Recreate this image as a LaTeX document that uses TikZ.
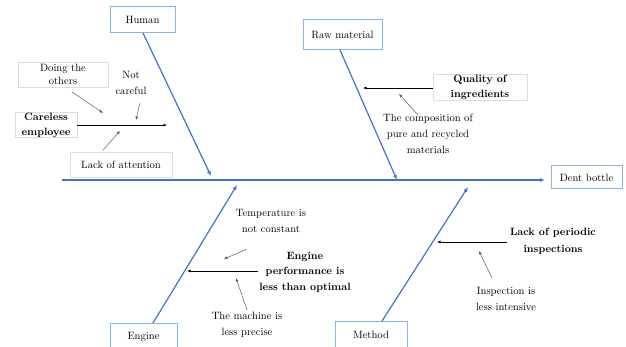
\documentclass[tikz,border=0pt]{standalone}
\usepackage{fontspec}
\usetikzlibrary{arrows.meta}
\definecolor{spineblue}{HTML}{4472C4}
\definecolor{boxblue}{HTML}{8FB3E0}
\definecolor{faint}{HTML}{DDDDDD}
\tikzset{
  catbox/.style={draw=boxblue, line width=1pt, fill=white, inner sep=0pt, align=center},
  txtbox/.style={draw=faint, line width=0.5pt, fill=white, inner sep=0pt, align=center},
  plain/.style={inner sep=0pt, align=center},
  bone/.style={draw=spineblue, line width=1.2pt, -{Latex[length=5pt,width=4pt]}},
  sub/.style={draw=black, line width=0.5pt, -{Latex[length=3.5pt,width=2.8pt]}},
  subg/.style={draw=black!65, line width=0.5pt, -{Latex[length=3.5pt,width=2.8pt]}},
}
\begin{document}
\begin{tikzpicture}[x=1pt,y=-1pt,font=\fontsize{10.6}{16}\selectfont]
\useasboundingbox (0,0) rectangle (626,347);
% category boxes
\node[catbox, minimum width=65, minimum height=26] (human) at (142.5,20) {Human};
\node[catbox, minimum width=79, minimum height=30] (raw) at (342.5,35) {Raw material};
\node[catbox, minimum width=71, minimum height=23] (dent) at (586.5,177.5) {Dent bottle};
\node[catbox, minimum width=67, minimum height=28] (engine) at (143.5,337) {Engine};
\node[catbox, minimum width=72, minimum height=28] (method) at (371,335) {Method};
% spine
\coordinate (sp0) at (62,180);
\coordinate (sp1) at (545,180);
\draw[bone] (sp0) -- (sp1);
% bones
\coordinate (h0) at (143,33);
\coordinate (h1) at (211,176);
\draw[bone] (h0) -- (h1);
\coordinate (r0) at (340,50);
\coordinate (r1) at (397,180);
\draw[bone] (r0) -- (r1);
\coordinate (e0) at (153,323);
\coordinate (e1) at (237,185);
\draw[bone] (e0) -- (e1);
\coordinate (m0) at (382,321);
\coordinate (m1) at (468,187);
\draw[bone] (m0) -- (m1);
% Human causes
\node[txtbox, minimum width=90, minimum height=25] (doing) at (63,74.5) {Doing the\\[-3pt]others};
\node[txtbox, minimum width=62, minimum height=24, font=\fontsize{10.6}{15}\selectfont\bfseries] (careless) at (46,125) {Careless\\employee};
\node[txtbox, minimum width=102, minimum height=25] (lack) at (121,164.5) {Lack of attention};
\node[plain] (notc) at (131,83) {Not\\careful};
\coordinate (ce) at (167,125);
\draw[sub] (careless.east) -- (ce);
\coordinate (d0) at (72,92);
\coordinate (d1) at (103,113);
\draw[subg] (d0) -- (d1);
\coordinate (n0) at (140,103);
\coordinate (n1) at (136,120);
\draw[subg] (n0) -- (n1);
\coordinate (l0) at (103,150);
\coordinate (l1) at (120,131);
\draw[subg] (l0) -- (l1);
% Raw material causes
\node[txtbox, minimum width=94, minimum height=26, font=\fontsize{10.6}{15}\selectfont\bfseries] (qual) at (480,87) {Quality of\\ingredients};
\coordinate (q1) at (363,88);
\draw[sub] (qual.west |- q1) -- (q1);
\node[plain] (comp) at (428,134) {The composition of\\pure and recycled\\materials};
\coordinate (c0) at (418,115);
\coordinate (c1) at (399,94);
\draw[subg] (c0) -- (c1);
% Engine causes
\node[plain] (temp) at (271,221) {Temperature is\\not constant};
\node[plain, font=\fontsize{10.6}{15.5}\selectfont\bfseries] (perf) at (305,272) {Engine\\performance is\\less than optimal};
\node[plain] (mach) at (247,325) {The machine is\\less precise};
\coordinate (t0) at (247,249);
\coordinate (t1) at (224,259);
\draw[subg] (t0) -- (t1);
\coordinate (p0) at (258,271);
\coordinate (p1) at (187,271);
\draw[sub] (p0) -- (p1);
\coordinate (mc0) at (247,310);
\coordinate (mc1) at (236,278);
\draw[subg] (mc0) -- (mc1);
% Method causes
\node[plain, font=\fontsize{10.6}{17}\selectfont\bfseries] (lackp) at (553,241) {Lack of periodic\\inspections};
\node[plain] (insp) at (506,299) {Inspection is\\less intensive};
\coordinate (lp0) at (507,242);
\coordinate (lp1) at (437,242);
\draw[sub] (lp0) -- (lp1);
\coordinate (i0) at (492,278);
\coordinate (i1) at (479,251);
\draw[subg] (i0) -- (i1);
\end{tikzpicture}
\end{document}
